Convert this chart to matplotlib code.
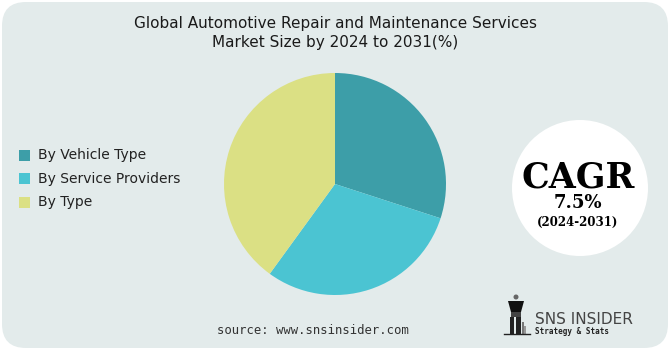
import matplotlib
matplotlib.use("Agg")
import matplotlib.pyplot as plt
from matplotlib.patches import FancyBboxPatch, Circle, Rectangle, Polygon

# data
segments = ["By Vehicle Type", "By Service Providers", "By Type"]
shares = [30, 30, 40]
colors = ["#3d9ea8", "#4bc4d2", "#dbe084"]
title = "Global Automotive Repair and Maintenance Services\nMarket Size by 2024 to 2031(%)"
cagr_value = "7.5%"
cagr_period = "(2024-2031)"
source = "source: www.snsinsider.com"

W, H = 670, 350
fig = plt.figure(figsize=(6.7, 3.5), dpi=100)
fig.patch.set_facecolor("white")

# background axes in pixel coords (y down)
bax = fig.add_axes([0, 0, 1, 1], zorder=-5)
bax.set_xlim(0, W)
bax.set_ylim(H, 0)
bax.axis("off")
bax.add_patch(FancyBboxPatch((2, 2), 666, 346,
                             boxstyle="round,pad=0,rounding_size=24",
                             facecolor="#e3ebeb", edgecolor="none"))

fig.text(0.5, 0.905, title, ha="center", va="center", fontsize=11,
         color="#1a1a1a", linespacing=1.35)

# pie, centre (335, 184), radius 111 px
cx, cy, r = 335, 184, 111
ax = fig.add_axes([(cx - r) / W, 1 - (cy + r) / H, 2 * r / W, 2 * r / H])
ax.pie(shares, colors=colors, startangle=90, counterclock=False,
       wedgeprops=dict(linewidth=0))
ax.set_xlim(-1, 1)
ax.set_ylim(-1, 1)
ax.axis("off")

# overlay axes for legend, CAGR badge, source and logo
cax = fig.add_axes([0, 0, 1, 1], facecolor="none", zorder=5)
cax.set_xlim(0, W)
cax.set_ylim(H, 0)
cax.axis("off")

# legend
for i, (lab, c) in enumerate(zip(segments, colors)):
    y = 155 + i * 23.5
    cax.add_patch(Rectangle((19, y - 5.5), 11, 11, facecolor=c, edgecolor="none"))
    cax.text(38, y, lab, ha="left", va="center", fontsize=10, color="#222222")

# CAGR circle
cax.add_patch(Circle((580, 188), 68, facecolor="white", edgecolor="none"))
cax.text(578, 178, "CAGR", ha="center", va="center", fontsize=25,
         fontweight="bold", family="DejaVu Serif", color="black")
cax.text(578, 203, cagr_value, ha="center", va="center", fontsize=13,
         fontweight="bold", family="DejaVu Serif", color="black")
cax.text(578, 222, cagr_period, ha="center", va="center", fontsize=8.5,
         fontweight="bold", family="DejaVu Serif", color="black")

# source
cax.text(313, 331, source, ha="center", va="center", fontsize=8.8,
         color="#333333", family="DejaVu Sans Mono")

# logo (rough)
cax.add_patch(Polygon([[508, 301], [524, 301], [521, 312], [511, 312]],
                      facecolor="#111111", edgecolor="none"))
cax.add_patch(Circle((516, 297), 2.5, facecolor="#666666", edgecolor="none"))
cax.add_patch(Rectangle((511, 312), 10, 5, facecolor="#444444", edgecolor="none"))
cax.add_patch(Rectangle((510, 317), 4, 17, facecolor="#222222", edgecolor="none"))
cax.add_patch(Rectangle((516, 317), 5, 17, facecolor="#222222", edgecolor="none"))
cax.add_patch(Rectangle((522, 322), 2, 12, facecolor="#777777", edgecolor="none"))
cax.add_patch(Rectangle((524, 326), 2, 8, facecolor="#999999", edgecolor="none"))
cax.plot([504, 530], [334, 334], color="#222222", lw=1)
cax.text(535, 319, "SNS INSIDER", ha="left", va="center", fontsize=11,
         color="#444444")
cax.text(535, 332, "Strategy & Stats", ha="left", va="center", fontsize=5.5,
         color="#222222", family="DejaVu Sans Mono", fontweight="bold")

fig.savefig("out.png", dpi=100, facecolor="white")
